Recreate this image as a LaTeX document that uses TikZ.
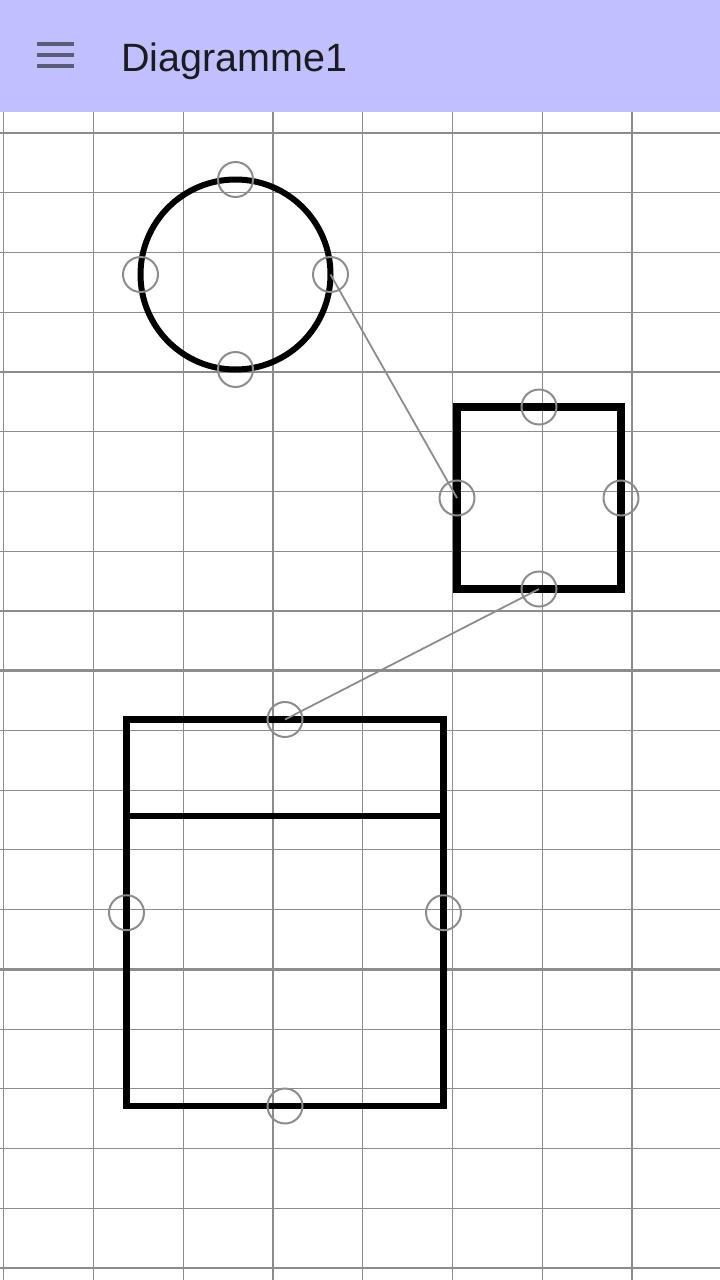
\documentclass[tikz,border=0pt]{standalone}
\usepackage{fontspec}
\setmainfont{Liberation Sans}
\usepackage{xcolor}
\usetikzlibrary{positioning}
\definecolor{headbg}{RGB}{192, 192, 255}
\definecolor{headicon}{RGB}{92, 92, 120}
\definecolor{headtext}{RGB}{28, 27, 31}
\definecolor{gridgray}{RGB}{140, 140, 140}
\definecolor{handlegray}{RGB}{140, 140, 140}

\begin{document}
\begin{tikzpicture}[
          x=1pt, y=-1pt,
          gridthin/.style={gridgray, line width=1.2pt},
          gridthick/.style={gridgray, line width=2.5pt},
          shapeline/.style={draw=black, inner sep=0pt, outer sep=0pt},
          handle/.style={circle, draw=handlegray, line width=2pt, minimum size=35pt,
                         inner sep=0pt},
          conn/.style={handlegray, line width=1.8pt},
        ]
        \useasboundingbox (0,0) rectangle (720,1280);
        % grid
        \foreach \k in {0,...,7}
          \draw[gridthin] (3.8+89.75*\k,112) -- (3.8+89.75*\k,1280);
        \foreach \k in {0,...,19}
          \draw[gridthin] (0,133+59.74*\k) -- (720,133+59.74*\k);
        \foreach \k in {0,4,9,14,19}
          \draw[gridthick] (0,133+59.74*\k) -- (720,133+59.74*\k);
        % top bar
        \fill[headbg] (0,0) rectangle (720,112);
        \foreach \yy in {44,55,66}
          \draw[headicon, line width=3.5pt] (37,\yy) -- (74,\yy);
        \node[anchor=base west, inner sep=0pt, text=headtext,
              font=\fontsize{39.5}{47}\selectfont] (title) at (121,71) {Diagramme1};
        % shapes
        \node[shapeline, circle, line width=6pt, minimum size=190pt] (c) at (235.5,274.5) {};
        \node[shapeline, rectangle, line width=8pt, minimum width=164pt,
              minimum height=182pt] (sq) at (539,498) {};
        \node[shapeline, rectangle, line width=6.5pt, minimum width=317pt,
              minimum height=386.5pt] (cls) at (285,912.75) {};
        \draw[line width=6.5pt] (cls.west |- 0,816) -- (cls.east |- 0,816);
        % handles
        \node[handle] (c-n) at (c.north) {};
        \node[handle] (c-w) at (c.west) {};
        \node[handle] (c-e) at (c.east) {};
        \node[handle] (c-s) at (c.south) {};
        \node[handle] (sq-n) at (sq.north) {};
        \node[handle] (sq-w) at (sq.west) {};
        \node[handle] (sq-e) at (sq.east) {};
        \node[handle] (sq-s) at (sq.south) {};
        \node[handle] (cls-n) at (cls.north) {};
        \node[handle] (cls-w) at (cls.west) {};
        \node[handle] (cls-e) at (cls.east) {};
        \node[handle] (cls-s) at (cls.south) {};
        % links
        \draw[conn] (c-e.center) -- (sq-w.center);
        \draw[conn] (sq-s.center) -- (cls-n.center);
      \end{tikzpicture}
\end{document}
